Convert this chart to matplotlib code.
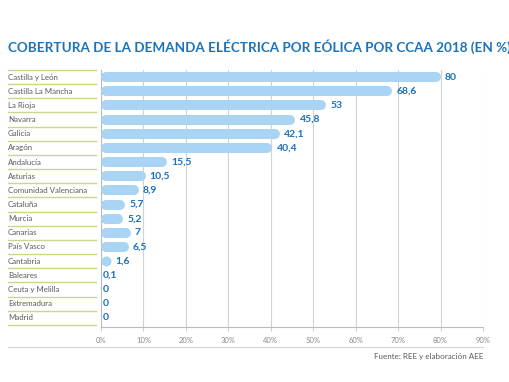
import matplotlib
matplotlib.use("Agg")
import matplotlib.pyplot as plt
from matplotlib.transforms import blended_transform_factory
from matplotlib.lines import Line2D

regions = [
    "Castilla y León", "Castilla La Mancha", "La Rioja", "Navarra", "Galicia",
    "Aragón", "Andalucía", "Asturias", "Comunidad Valenciana", "Cataluña",
    "Murcia", "Canarias", "País Vasco", "Cantabria", "Baleares",
    "Ceuta y Melilla", "Extremadura", "Madrid",
]
coverage = [80, 68.6, 53, 45.8, 42.1, 40.4, 15.5, 10.5, 8.9, 5.7,
            5.2, 7, 6.5, 1.6, 0.1, 0, 0, 0]
x_ticks = [0, 10, 20, 30, 40, 50, 60, 70, 80, 90]

title = "COBERTURA DE LA DEMANDA ELÉCTRICA POR EÓLICA POR CCAA 2018 (EN %)"
source = "Fuente: REE y elaboración AEE"

bar_color = "#a9d4f3"
value_color = "#1c6fb6"
title_color = "#1b74bb"
sep_color = "#c9d98a"
grid_color = "#cfd3d6"

plt.rcParams["font.family"] = ["Lato", "DejaVu Sans"]

fig = plt.figure(figsize=(5.1, 3.82), dpi=100)
W, H = 510, 382
left, right, top, bottom = 101, 483, 70, 327
ax = fig.add_axes([left / W, 1 - bottom / H, (right - left) / W, (bottom - top) / H])

n = len(regions)
ax.set_xlim(0, 90)
ax.set_ylim(n - 0.5 + 0.15, -0.5)

# rounded bars: thick lines with round caps, a dot when too short
bar_px = 10
bar_pt = bar_px * 0.72
px_per_unit = (right - left) / 90
r = bar_px / 2 / px_per_unit
for i, v in enumerate(coverage):
    end = 0
    if v >= 2 * r:
        ax.plot([r, v - r], [i, i], color=bar_color, lw=bar_pt,
                solid_capstyle="round", zorder=3)
        end = v
    elif v >= 1:
        ax.plot([r], [i], marker="o", ms=bar_pt, color=bar_color,
                mec="none", zorder=3)
        end = 2 * r
    label = f"{v:g}".replace(".", ",")
    ax.annotate(label, (end, i), xytext=(3 if v >= 1 else 1, 0),
                textcoords="offset points", va="center", ha="left",
                fontsize=7.5, fontweight="bold", color=value_color, zorder=4)

ax.set_xticks(x_ticks)
ax.set_xticklabels([f"{t}%" for t in x_ticks])
ax.set_yticks([])
ax.grid(axis="x", color=grid_color, lw=0.8, zorder=0)
for s in ["top", "right"]:
    ax.spines[s].set_visible(False)
for s in ["left", "bottom"]:
    ax.spines[s].set_color("#b8bcc0")
    ax.spines[s].set_linewidth(0.8)
ax.tick_params(axis="x", length=3, color=grid_color, labelsize=5.5,
               labelcolor="#8a8a8a", pad=4)

# region labels and separator lines in the label column
trans = blended_transform_factory(ax.transAxes, ax.transData)
lab_x = (8 - left) / (right - left)
sep_x1 = (96 - left) / (right - left)
for i, name in enumerate(regions):
    ax.text(lab_x, i, name, transform=trans, ha="left", va="center",
            fontsize=5.7, color="#5a5a5a")
for b in range(n + 1):
    ax.plot([lab_x, sep_x1], [b - 0.5, b - 0.5], transform=trans,
            color=sep_color, lw=1.0, clip_on=False)

fig.text(8 / W, 1 - 47 / H, title, ha="left", va="center",
         fontsize=9.7, fontweight="bold", color=title_color)
fig.add_artist(Line2D([8 / W, 483 / W], [1 - 347 / H, 1 - 347 / H],
                      color="#d4d6d8", lw=0.8))
fig.text(483 / W, 1 - 356 / H, source, ha="right", va="center",
         fontsize=5.8, color="#5a5a5a")

fig.savefig("out.png", dpi=100)
